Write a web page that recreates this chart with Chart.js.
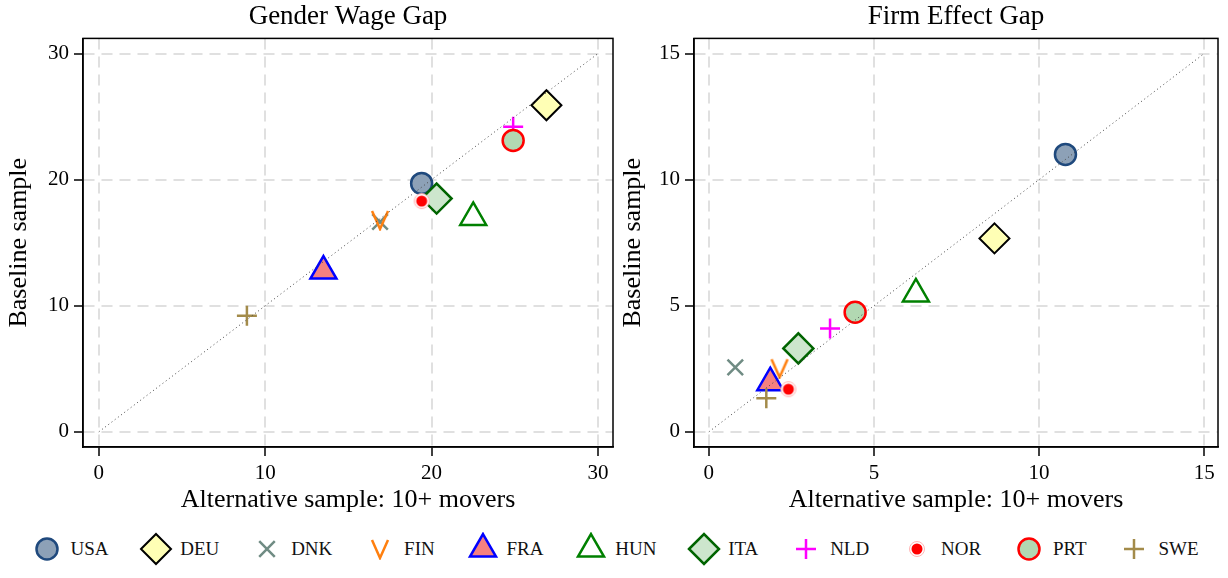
<!DOCTYPE html>
<html>
<head>
<meta charset="utf-8">
<script src="https://cdn.jsdelivr.net/npm/chart.js"></script>
<style>
  body { margin: 0; background: #fff; width: 1228px; height: 578px; overflow: hidden; font-family: 'Liberation Serif', serif; }
  #plots { display: flex; height: 520px; }
  #plots canvas { display: block; }
  #legend { display: flex; justify-content: center; align-items: center; height: 58px; }
  .item { display: flex; align-items: center; margin: 0 15.4px; }
  .item span { font-size: 19px; margin-left: 7px; color: #111; }
</style>
</head>
<body>
<div id="plots">
  <canvas id="gwg" width="614" height="520"></canvas>
  <canvas id="feg" width="614" height="520"></canvas>
</div>
<div id="legend"></div>
<script>
// countries, in legend order
var countries = ['USA', 'DEU', 'DNK', 'FIN', 'FRA', 'HUN', 'ITA', 'NLD', 'NOR', 'PRT', 'SWE'];

// Gender Wage Gap: x = alternative sample (10+ movers), y = baseline sample
var gwgAlt  = [19.4, 26.9, 16.9, 16.9, 13.5, 22.5, 20.3, 24.9, 19.4, 24.9, 8.9];
var gwgBase = [19.7, 25.9, 16.65, 16.8, 12.75, 17.0, 18.5, 24.2, 18.3, 23.1, 9.2];

// Firm Effect Gap
var feAlt  = [10.8, 8.65, 0.8, 2.14, 1.86, 6.27, 2.71, 3.67, 2.41, 4.43, 1.74];
var feBase = [11.0, 7.67, 2.56, 2.52, 1.95, 5.47, 3.31, 4.1, 1.69, 4.74, 1.33];

// tick labels
var gwgTicks = [0, 10, 20, 30];
var feTicks = [0, 5, 10, 15];

// 45 degree line ends
var gwgDiag = [0, 30];
var feDiag = [0, 15];

var FONT = "'Liberation Serif', 'DejaVu Serif', serif";

// V marker for FIN (no built in style)
function vMarker() {
  var c = document.createElement('canvas');
  c.width = 22; c.height = 22;
  var g = c.getContext('2d');
  g.strokeStyle = '#ff7f0e';
  g.lineWidth = 2.5;
  g.beginPath();
  g.moveTo(3, 2); g.lineTo(11, 20); g.lineTo(19, 2);
  g.stroke();
  return c;
}
// red dot with white + faint red ring for NOR
function dotMarker() {
  var c = document.createElement('canvas');
  c.width = 18; c.height = 18;
  var g = c.getContext('2d');
  g.fillStyle = '#fff';
  g.beginPath(); g.arc(9, 9, 7.5, 0, Math.PI * 2); g.fill();
  g.strokeStyle = '#ffb4b4'; g.lineWidth = 1;
  g.stroke();
  g.fillStyle = '#ff0000';
  g.beginPath(); g.arc(9, 9, 5.5, 0, Math.PI * 2); g.fill();
  return c;
}

var marks = {
  USA: {pointStyle: 'circle', radius: 10.5, bg: '#8da1b7', border: '#1f497d', bw: 2.5},
  DEU: {pointStyle: 'rectRot', radius: 15, bg: '#ffffb5', border: '#000000', bw: 2},
  DNK: {pointStyle: 'crossRot', radius: 11, bg: '#708c84', border: '#708c84', bw: 2.5},
  FIN: {pointStyle: vMarker(), radius: 10, bg: '#ff7f0e', border: '#ff7f0e', bw: 2.5},
  FRA: {pointStyle: 'triangle', radius: 15, bg: '#f58080', border: '#0000ff', bw: 2.5},
  HUN: {pointStyle: 'triangle', radius: 15, bg: 'rgba(255,255,255,0)', border: '#008000', bw: 2.5},
  ITA: {pointStyle: 'rectRot', radius: 15, bg: '#cde6cd', border: '#006400', bw: 2.5},
  NLD: {pointStyle: 'cross', radius: 10, bg: '#ff00ff', border: '#ff00ff', bw: 2.5},
  NOR: {pointStyle: dotMarker(), radius: 8, bg: '#ff0000', border: '#ff0000', bw: 1},
  PRT: {pointStyle: 'circle', radius: 10.5, bg: '#b2d8b2', border: '#ff0000', bw: 2.5},
  SWE: {pointStyle: 'cross', radius: 10, bg: '#a38b4a', border: '#a38b4a', bw: 2.5}
};

// full box round the plot area
var frame = {
  id: 'frame',
  afterDraw: function(chart) {
    var a = chart.chartArea, ctx = chart.ctx;
    ctx.save();
    ctx.strokeStyle = '#000';
    ctx.lineWidth = 1.5;
    ctx.strokeRect(a.left, a.top, a.right - a.left, a.bottom - a.top);
    ctx.restore();
  }
};

function makeDatasets(xs, ys, diag) {
  // chart.js paints dataset 0 last, so the diagonal goes first and
  // countries go in reverse (later countries end up on top, as in the original)
  var sets = [{
    type: 'line',
    label: '45',
    data: [{x: diag[0], y: diag[0]}, {x: diag[1], y: diag[1]}],
    borderColor: '#444',
    borderWidth: 1,
    borderDash: [1, 3],
    pointRadius: 0,
    fill: false
  }];
  for (var i = countries.length - 1; i >= 0; i--) {
    var c = countries[i], m = marks[c];
    sets.push({
      label: c,
      data: [{x: xs[i], y: ys[i]}],
      pointStyle: m.pointStyle,
      pointRadius: m.radius,
      pointHoverRadius: m.radius,
      backgroundColor: m.bg,
      borderColor: m.border,
      pointBorderWidth: m.bw,
      borderWidth: m.bw
    });
  }
  return sets;
}

function axis(ticks, min, max, title, isX, size) {
  var a = {
    type: 'linear',
    min: min,
    max: max,
    afterBuildTicks: function(s) { s.ticks = ticks.map(function(v) { return {value: v}; }); },
    grid: { color: '#e0e0e0', lineWidth: 2, tickLength: 9, tickColor: '#000', tickWidth: 1.5, tickBorderDash: [] },
    border: { display: true, color: '#000', width: 1.5, dash: [11, 7] },
    ticks: { color: '#000', padding: 5, font: {family: FONT, size: 21} },
    title: { display: true, text: title, color: '#000', font: {family: FONT, size: 26} }
  };
  if (isX) {
    a.title.padding = {top: 0, bottom: 4};
    a.afterFit = function(s) { s.height = size; s.paddingLeft = 0; s.paddingRight = 0; };
  } else {
    a.title.padding = {top: 4, bottom: 0};
    a.afterFit = function(s) { s.width = size; s.paddingTop = 0; s.paddingBottom = 0; };
  }
  return a;
}

function makeChart(id, xs, ys, diag, ticks, xr, yr, title, ywidth, padRight) {
  return new Chart(document.getElementById(id), {
    type: 'scatter',
    data: { datasets: makeDatasets(xs, ys, diag) },
    options: {
      responsive: false,
      animation: false,
      events: [],
      layout: { autoPadding: false, padding: {left: 0, right: padRight, top: 0, bottom: 0} },
      plugins: {
        legend: { display: false },
        tooltip: { enabled: false },
        title: {
          display: true, fullSize: false, text: title, color: '#000',
          font: {family: FONT, size: 27, weight: 'normal'}, padding: {top: 1, bottom: 5}
        }
      },
      scales: {
        x: axis(ticks, xr[0], xr[1], 'Alternative sample: 10+ movers', true, 73),
        y: axis(ticks, yr[0], yr[1], 'Baseline sample', false, ywidth)
      }
    },
    plugins: [frame]
  });
}

makeChart('gwg', gwgAlt, gwgBase, gwgDiag, gwgTicks, [-0.95, 30.9], [-1.2, 31.2], 'Gender Wage Gap', 83, 1);
makeChart('feg', feAlt, feBase, feDiag, feTicks, [-0.45, 15.42], [-0.6, 15.6], 'Firm Effect Gap', 80, 10);

// legend shared by both panels
var leg = document.getElementById('legend');
countries.forEach(function(c) {
  var m = marks[c];
  var item = document.createElement('div');
  item.className = 'item';
  var cv = document.createElement('canvas');
  cv.width = 34; cv.height = 34;
  var g = cv.getContext('2d');
  g.fillStyle = m.bg;
  g.strokeStyle = m.border;
  g.lineWidth = m.bw;
  if (Chart.helpers && Chart.helpers.drawPoint) {
    Chart.helpers.drawPoint(g, {pointStyle: m.pointStyle, radius: m.radius, borderWidth: m.bw, rotation: 0}, 17, 17);
  } else {
    g.beginPath(); g.arc(17, 17, 10, 0, Math.PI * 2); g.fill(); g.stroke();
  }
  var t = document.createElement('span');
  t.textContent = c;
  item.appendChild(cv);
  item.appendChild(t);
  leg.appendChild(item);
});
</script>
</body>
</html>
